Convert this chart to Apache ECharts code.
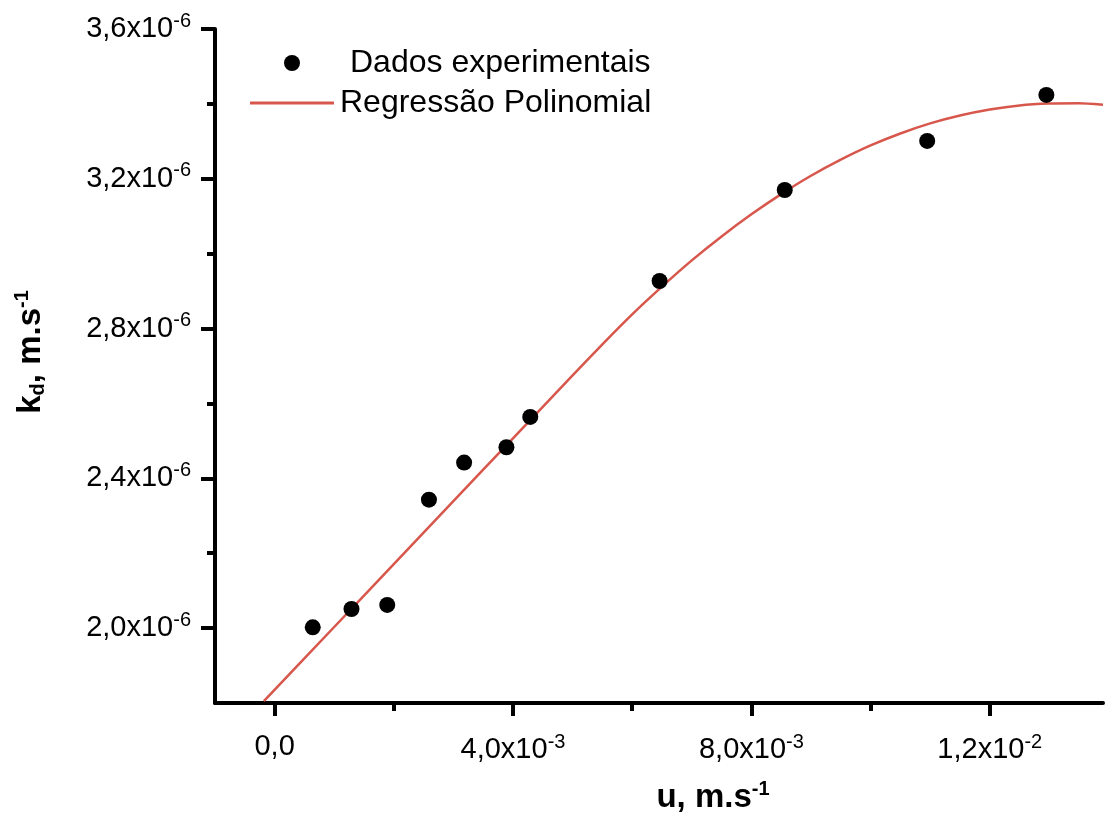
<!DOCTYPE html>
<html>
<head>
<meta charset="utf-8">
<script src="https://cdn.jsdelivr.net/npm/echarts@6/dist/echarts.min.js"></script>
<style>html,body{margin:0;padding:0;background:#fff}#c{width:1105px;height:814px}</style>
</head>
<body>
<div id="c"></div>
<script>
// ---- data ----
const expU  = [0.00064, 0.00129, 0.00189, 0.00259, 0.00318, 0.00389, 0.00429, 0.00646, 0.00856, 0.01095, 0.01295];
const expKd = [2.002e-6, 2.051e-6, 2.062e-6, 2.343e-6, 2.442e-6, 2.483e-6, 2.564e-6, 2.927e-6, 3.170e-6, 3.301e-6, 3.424e-6];

const fitU  = [-0.00018, 0.001, 0.002, 0.003, 0.004, 0.005, 0.0055, 0.006, 0.0065, 0.007, 0.0075, 0.008, 0.0085, 0.009, 0.0095, 0.010, 0.0105, 0.011, 0.0115, 0.012, 0.0125, 0.013, 0.0135, 0.0139];
const fitKd = [1.805e-6, 2.003e-6, 2.171e-6, 2.339e-6, 2.507e-6, 2.675e-6, 2.758e-6, 2.838e-6, 2.912e-6, 2.982e-6, 3.046e-6, 3.105e-6, 3.159e-6, 3.208e-6, 3.251e-6, 3.289e-6, 3.321e-6, 3.348e-6, 3.369e-6, 3.385e-6, 3.396e-6, 3.401e-6, 3.402e-6, 3.398e-6];

const xTickValues = [0, 0.004, 0.008, 0.012];
const xTickBase   = ['0,0', '4,0x10', '8,0x10', '1,2x10'];
const xTickExp    = ['', '-3', '-3', '-2'];
const xMinorTicks = [0.002, 0.006, 0.010];

const yTickValues = [2.0e-6, 2.4e-6, 2.8e-6, 3.2e-6, 3.6e-6];
const yTickBase   = ['2,0x10', '2,4x10', '2,8x10', '3,2x10', '3,6x10'];
const yTickExp    = ['-6', '-6', '-6', '-6', '-6'];
const yMinorTicks = [2.2e-6, 2.6e-6, 3.0e-6, 3.4e-6];

const seriesNames = ['Dados experimentais', 'Regressão Polinomial'];

// ---- chart ----
const FONT = '"Liberation Sans", Arial, Helvetica, sans-serif';
const RED = '#d8574c';
const X_MIN = -0.001, X_MAX = 0.0139, Y_MIN = 1.8e-6, Y_MAX = 3.6e-6;
const GRID = {left: 215, right: 2, top: 29, bottom: 111, outerBoundsMode: 'none', containLabel: false};
const gridW = 1105 - GRID.left - GRID.right;
const gridH = 814 - GRID.top - GRID.bottom;

function fmt(values, base, exp, tol) {
  return function (v) {
    for (let i = 0; i < values.length; i++) {
      if (Math.abs(v - values[i]) < tol) {
        return exp[i] ? '{b|' + base[i] + '}{s|' + exp[i] + '}' : '{b|' + base[i] + '}';
      }
    }
    return '';
  };
}

const labelRich = {
  b: {fontFamily: FONT, fontSize: 29, color: '#000'},
  s: {fontFamily: FONT, fontSize: 20, color: '#000', padding: [0, 0, 16, 0]}
};
const nameRich = {
  b: {fontFamily: FONT, fontSize: 33, fontWeight: 'bold', color: '#000'},
  s: {fontFamily: FONT, fontSize: 20, fontWeight: 'bold', color: '#000', padding: [0, 0, 18, 0]},
  d: {fontFamily: FONT, fontSize: 20, fontWeight: 'bold', color: '#000', padding: [14, 0, 0, 0]}
};

const chart = echarts.init(document.getElementById('c'));
chart.setOption({
  animation: false,
  backgroundColor: '#fff',
  grid: GRID,
  legend: {
    orient: 'vertical', left: 245, top: 42,
    itemWidth: 84, itemHeight: 16, itemGap: 8,
    textStyle: {fontFamily: FONT, fontSize: 32, color: '#000', lineHeight: 32},
    data: [
      {name: seriesNames[0], icon: 'circle', textStyle: {padding: [0, 0, 0, 11]}},
      {name: seriesNames[1], icon: 'path://M0,0H84V3H0Z', textStyle: {padding: [0, 0, 0, 1]}}
    ]
  },
  xAxis: [{
    type: 'value', min: X_MIN, max: X_MAX,
    axisLine: {show: true, onZero: false, lineStyle: {color: '#000', width: 4}},
    axisTick: {show: true, customValues: xTickValues, length: 13, lineStyle: {color: '#000', width: 4}},
    axisLabel: {show: true, customValues: xTickValues, margin: 29,
      formatter: fmt(xTickValues, xTickBase, xTickExp, 1e-9), rich: labelRich},
    splitLine: {show: false},
    name: '{b|u, m.s}{s|-1}', nameLocation: 'middle', nameGap: 76,
    nameTextStyle: {rich: nameRich, padding: [0, 0, 0, 108]}
  }, {
    type: 'value', min: X_MIN, max: X_MAX, position: 'top', offset: -gridH,
    axisLine: {show: false, onZero: false},
    axisTick: {show: true, inside: true, customValues: xMinorTicks, length: 8, lineStyle: {color: '#000', width: 4}},
    axisLabel: {show: false}, splitLine: {show: false}
  }],
  yAxis: [{
    type: 'value', min: Y_MIN, max: Y_MAX,
    axisLine: {show: true, onZero: false, lineStyle: {color: '#000', width: 4}},
    axisTick: {show: true, customValues: yTickValues, length: 14, lineStyle: {color: '#000', width: 4}},
    axisLabel: {show: true, customValues: yTickValues, margin: 24,
      formatter: fmt(yTickValues, yTickBase, yTickExp, 1e-12), rich: labelRich},
    splitLine: {show: false},
    name: '{b|k}{d|d}{b|, m.s}{s|-1}', nameLocation: 'middle', nameGap: 165, nameRotate: 90,
    nameTextStyle: {rich: nameRich, padding: [0, 0, 0, 28]}
  }, {
    type: 'value', min: Y_MIN, max: Y_MAX, position: 'right', offset: -gridW,
    axisLine: {show: false, onZero: false},
    axisTick: {show: true, inside: true, customValues: yMinorTicks, length: 8, lineStyle: {color: '#000', width: 4}},
    axisLabel: {show: false}, splitLine: {show: false}
  }],
  series: [{
    name: seriesNames[0], type: 'scatter', xAxisIndex: 0, yAxisIndex: 0,
    symbol: 'circle', symbolSize: 16,
    itemStyle: {color: '#000', opacity: 1},
    data: expU.map((u, i) => [u, expKd[i]]),
    z: 3
  }, {
    name: seriesNames[1], type: 'line', xAxisIndex: 0, yAxisIndex: 0,
    smooth: 0.2, showSymbol: false, symbol: 'none', clip: true,
    lineStyle: {color: RED, width: 2.5},
    itemStyle: {color: RED},
    data: fitU.map((u, i) => [u, fitKd[i]]),
    z: 2
  }]
});
</script>
</body>
</html>
